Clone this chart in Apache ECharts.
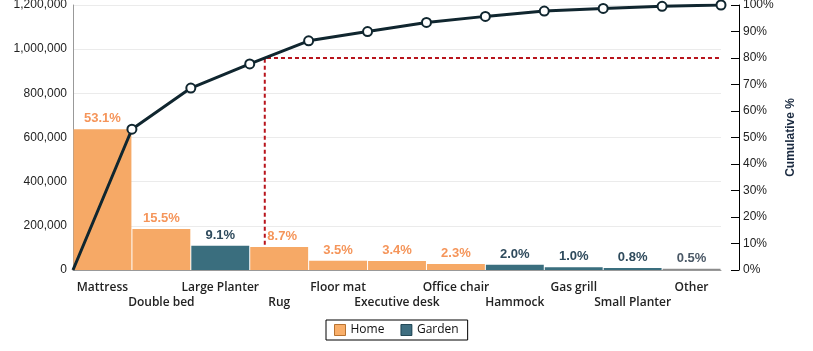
<!DOCTYPE html>
<html>
<head>
<meta charset="utf-8">
<script src="https://cdn.jsdelivr.net/npm/echarts@6/dist/echarts.min.js"></script>
<style>
  html, body { margin: 0; padding: 0; background: #fff; }
  #chart { width: 813px; height: 351px; }
</style>
</head>
<body>
<div id="chart"></div>
<script>
  // data
  var products = ['Mattress', 'Double bed', 'Large Planter', 'Rug', 'Floor mat', 'Executive desk',
    'Office chair', 'Hammock', 'Gas grill', 'Small Planter', 'Other']
  var sales = [637000, 186000, 109500, 104500, 42000, 41000, 27500, 24000, 12000, 9500, 6000]
  var groups = ['Home', 'Home', 'Garden', 'Home', 'Home', 'Home', 'Home', 'Garden', 'Garden', 'Garden', 'Other']
  var salesTicks = [0, 200000, 400000, 600000, 800000, 1000000, 1200000]
  var cutoff = 80

  var barColor = {Home: '#f6a966', Garden: '#3a6e7e', Other: '#8c8c8c'}
  var labelColor = {Home: '#f5955a', Garden: '#2e4a5c', Other: '#4a5866'}

  var total = sales.reduce(function (a, b) { return a + b }, 0)
  var cum = [[0, 0]]
  var run = 0
  for (var i = 0; i < sales.length; i++) {
    run += sales[i]
    cum.push([i + 1, run / total * 100])
  }
  cum[cum.length - 1][1] = 100

  // where the cumulative line crosses the cutoff
  var xc = 0, crossIdx = 0
  for (var j = 1; j < cum.length; j++) {
    if (cum[j][1] >= cutoff) {
      var a = cum[j - 1], b = cum[j]
      xc = a[0] + (cutoff - a[1]) / (b[1] - a[1])
      crossIdx = j - 1
      break
    }
  }
  var salesMax = salesTicks[salesTicks.length - 1]
  var barTopPct = sales[crossIdx] / salesMax * 100

  var barData = sales.map(function (v, k) {
    var lbl = {color: labelColor[groups[k]]}
    if (k === crossIdx) lbl.offset = [3, 0] // keep label clear of the cutoff line
    return {
      value: v,
      itemStyle: {color: barColor[groups[k]]},
      label: lbl
    }
  })
  var lineData = cum.map(function (p, k) {
    return k === 0 ? {value: p, symbol: 'none'} : {value: p}
  })

  var chart = echarts.init(document.getElementById('chart'))
  chart.setOption({
    animation: false,
    textStyle: {fontFamily: 'Liberation Sans, Arial, sans-serif'},
    grid: {left: 73, right: 92, top: 5, bottom: 81, outerBoundsMode: 'none', containLabel: false},
    legend: {
      bottom: 11,
      left: 326,
      selectedMode: false,
      borderColor: '#000',
      borderWidth: 1,
      padding: [4, 9, 4, 8],
      itemWidth: 11,
      itemHeight: 11,
      itemGap: 16,
      textStyle: {fontFamily: 'Open Sans, sans-serif', fontSize: 12, color: '#111'},
      data: [
        {name: 'Home', icon: 'rect', itemStyle: {color: '#f79b45', borderColor: '#a85a10', borderWidth: 1}},
        {name: 'Garden', icon: 'rect', itemStyle: {color: '#0f4a60', borderColor: '#062f3e', borderWidth: 1}}
      ]
    },
    xAxis: [
      {
        type: 'category',
        data: products,
        axisLine: {lineStyle: {color: '#999'}},
        axisTick: {alignWithLabel: true, length: 5, lineStyle: {color: '#ccc'}},
        axisLabel: {
          interval: 0,
          margin: 10,
          lineHeight: 15,
          fontFamily: 'Open Sans, sans-serif',
          fontWeight: 600,
          fontSize: 12,
          color: '#222',
          formatter: function (val, idx) { return idx % 2 === 1 ? '\n' + val : val }
        }
      },
      {
        type: 'value',
        min: 0,
        max: products.length,
        show: false
      }
    ],
    yAxis: [
      {
        type: 'value',
        min: 0,
        max: salesMax,
        interval: salesTicks[1] - salesTicks[0],
        name: 'Sales',
        nameLocation: 'middle',
        nameGap: 54,
        nameTextStyle: {fontWeight: 'bold', fontSize: 12, color: '#1a2a40'},
        axisLine: {show: true, lineStyle: {color: '#999'}},
        axisTick: {show: false},
        axisLabel: {
          fontSize: 12,
          color: '#222',
          margin: 6,
          formatter: function (v) { return v.toLocaleString('en-US') }
        },
        splitLine: {lineStyle: {color: '#ebebeb'}}
      },
      {
        type: 'value',
        min: 0,
        max: 100,
        interval: 10,
        position: 'right',
        offset: 18,
        name: 'Cumulative %',
        nameLocation: 'middle',
        nameGap: 46,
        nameTextStyle: {fontWeight: 'bold', fontSize: 12, color: '#1a2a40'},
        axisLine: {show: true, lineStyle: {color: '#000'}},
        axisTick: {show: true, inside: true, length: 8, lineStyle: {color: '#000'}},
        axisLabel: {fontSize: 12, color: '#222', margin: 4, formatter: '{value}%'},
        splitLine: {show: false}
      }
    ],
    series: [
      {
        name: 'Sales',
        type: 'bar',
        xAxisIndex: 0,
        yAxisIndex: 0,
        barCategoryGap: '1.7%',
        label: {
          show: true,
          position: 'top',
          distance: 4,
          fontWeight: 'bold',
          fontSize: 13,
          formatter: function (p) { return (p.value / total * 100).toFixed(1) + '%' }
        },
        data: barData,
        z: 2
      },
      {name: 'Home', type: 'scatter', data: [], itemStyle: {color: '#f79b45'}},
      {name: 'Garden', type: 'scatter', data: [], itemStyle: {color: '#0f4a60'}},
      {
        name: 'Cutoff',
        type: 'line',
        xAxisIndex: 1,
        yAxisIndex: 1,
        symbol: 'none',
        lineStyle: {color: '#b8141c', width: 2, type: [4, 3]},
        data: [[xc, barTopPct + 0.8], [xc, cutoff], [products.length, cutoff]],
        z: 3
      },
      {
        name: 'Cumulative',
        type: 'line',
        xAxisIndex: 1,
        yAxisIndex: 1,
        symbol: 'circle',
        symbolSize: 9,
        lineStyle: {color: '#10262f', width: 3},
        itemStyle: {color: '#fff', borderColor: '#10262f', borderWidth: 2},
        data: lineData,
        z: 5
      }
    ]
  })
</script>
</body>
</html>
